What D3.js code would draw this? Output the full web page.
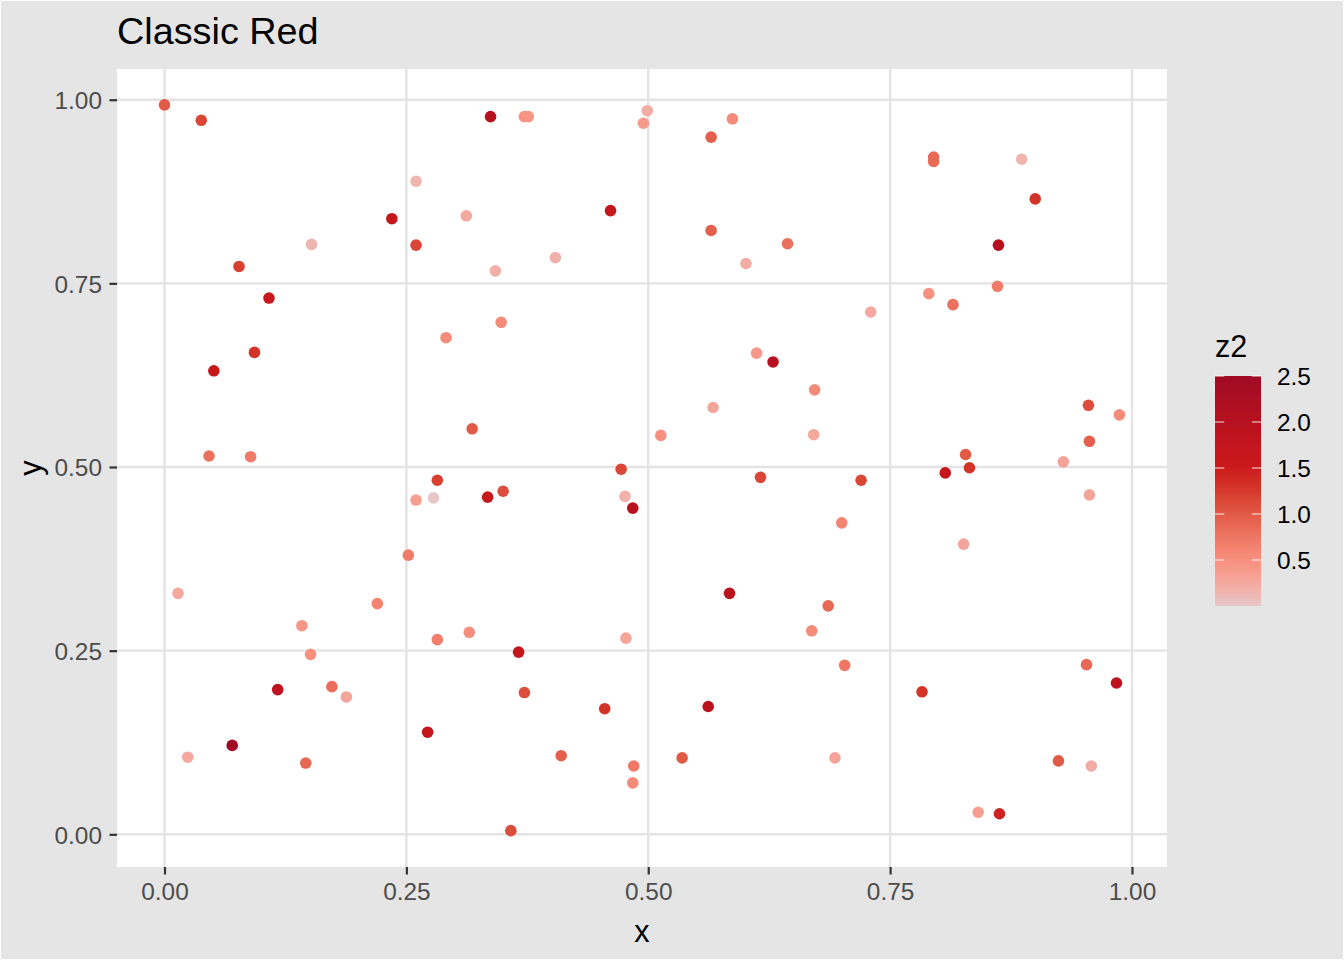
<!DOCTYPE html>
<html><head><meta charset="utf-8">
<script src="https://cdn.jsdelivr.net/npm/d3@7"></script>
<style>html,body{margin:0;padding:0;background:#E5E5E5;} svg{display:block;}</style>
</head><body><div id="chart"></div>
<script>
const xs = [0.000,0.038,0.260,0.235,0.152,0.260,0.077,0.108,0.291,0.093,0.051,0.046,0.089,0.312,0.318,0.337,0.372,0.376,0.499,0.495,0.587,0.565,0.461,0.565,0.644,0.601,0.404,0.342,0.348,0.612,0.629,0.672,0.567,0.513,0.671,0.472,0.795,0.795,0.886,0.900,0.862,0.861,0.790,0.815,0.730,0.955,0.987,0.956,0.828,0.929,0.282,0.260,0.278,0.252,0.014,0.220,0.142,0.282,0.315,0.151,0.117,0.173,0.188,0.272,0.070,0.024,0.146,0.616,0.334,0.350,0.476,0.484,0.584,0.669,0.477,0.366,0.372,0.455,0.562,0.410,0.535,0.485,0.484,0.358,0.807,0.832,0.720,0.956,0.700,0.826,0.686,0.703,0.953,0.984,0.783,0.693,0.924,0.958,0.841,0.863];
const ys = [0.993,0.972,0.889,0.838,0.803,0.802,0.773,0.730,0.676,0.656,0.631,0.515,0.514,0.842,0.552,0.977,0.977,0.977,0.985,0.968,0.974,0.949,0.849,0.822,0.804,0.777,0.785,0.767,0.697,0.655,0.643,0.605,0.581,0.543,0.544,0.497,0.922,0.916,0.919,0.865,0.802,0.746,0.736,0.721,0.711,0.584,0.571,0.535,0.517,0.507,0.482,0.455,0.458,0.380,0.328,0.314,0.284,0.265,0.275,0.245,0.197,0.201,0.187,0.139,0.121,0.105,0.097,0.486,0.459,0.467,0.460,0.444,0.328,0.277,0.267,0.248,0.193,0.171,0.174,0.107,0.104,0.093,0.070,0.005,0.492,0.499,0.482,0.462,0.424,0.395,0.311,0.230,0.231,0.206,0.194,0.104,0.100,0.093,0.030,0.028];
const z2 = [1.0,1.15,0.15,1.7,0.15,1.15,1.2,1.6,0.55,1.3,1.6,0.8,0.7,0.25,1.0,2.0,0.45,0.45,0.22,0.4,0.55,0.95,1.7,0.95,0.8,0.22,0.18,0.2,0.55,0.42,2.0,0.55,0.28,0.5,0.25,1.15,0.85,0.85,0.15,1.3,2.05,0.7,0.48,0.8,0.25,1.1,0.55,0.95,1.0,0.3,1.2,0.35,0.01,0.7,0.25,0.62,0.45,0.68,0.52,0.5,1.85,0.82,0.28,1.7,2.5,0.25,0.88,1.15,1.6,1.1,0.18,1.95,1.95,0.55,0.28,1.7,1.1,1.3,1.95,0.95,1.0,0.72,0.55,1.1,1.65,1.3,1.15,0.28,0.62,0.28,0.88,0.75,0.88,1.85,1.3,0.3,1.0,0.22,0.35,1.45];

const xTicks = [0, 0.25, 0.5, 0.75, 1];
const xTickLabels = ["0.00", "0.25", "0.50", "0.75", "1.00"];
const yTicks = [0, 0.25, 0.5, 0.75, 1];
const yTickLabels = ["0.00", "0.25", "0.50", "0.75", "1.00"];
const legendBreaks = [0.5, 1.0, 1.5, 2.0, 2.5];
const legendLabels = ["0.5", "1.0", "1.5", "2.0", "2.5"];
const zLimits = [0, 2.5];
const colorStops = [0, 0.25, 0.5, 0.75, 1.0, 1.25, 1.5, 1.75, 2.0, 2.25, 2.5];
const colorValues = ["#E6C8C8", "#F4A89E", "#F7907F", "#EE7663", "#E15A46", "#D6382B", "#CB1A1C", "#C2151D", "#B7111F", "#AC0E22", "#A00A25"];

const W = 1344, H = 960;
const FONT = "'Liberation Sans', Arial, Helvetica, sans-serif";
const panel = {left: 117, top: 69, right: 1167, bottom: 867};

const svg = d3.select("#chart").append("svg").attr("width", W).attr("height", H)
  .style("font-family", FONT);

svg.append("rect").attr("x", 0.5).attr("y", 0.5).attr("width", W - 1).attr("height", H - 1)
  .attr("fill", "#E5E5E5").attr("stroke", "#FFFFFF").attr("stroke-width", 1);

const x = d3.scaleLinear().domain([-0.0491, 1.0362]).range([panel.left, panel.right]);
const y = d3.scaleLinear().domain([-0.0445, 1.0418]).range([panel.bottom, panel.top]);
const color = d3.scaleLinear().domain(colorStops).range(colorValues).interpolate(d3.interpolateLab).clamp(true);

// panel
svg.append("rect").attr("x", panel.left).attr("y", panel.top)
  .attr("width", panel.right - panel.left).attr("height", panel.bottom - panel.top)
  .attr("fill", "#FFFFFF");

const grid = svg.append("g");
grid.selectAll("line.v").data(xTicks).join("line")
  .attr("x1", d => x(d)).attr("x2", d => x(d))
  .attr("y1", panel.top).attr("y2", panel.bottom)
  .attr("stroke", "#E3E3E3").attr("stroke-width", 2.4);
grid.selectAll("line.h").data(yTicks).join("line")
  .attr("y1", d => y(d)).attr("y2", d => y(d))
  .attr("x1", panel.left).attr("x2", panel.right)
  .attr("stroke", "#E3E3E3").attr("stroke-width", 2.4);

// points
const pts = xs.map((v, i) => ({x: v, y: ys[i], z: z2[i]}));
svg.append("g").selectAll("circle").data(pts).join("circle")
  .attr("cx", d => x(d.x)).attr("cy", d => y(d.y)).attr("r", 5.8)
  .attr("fill", d => color(d.z));

// axes
const xAxis = d3.axisBottom(x).tickValues(xTicks).tickFormat((d, i) => xTickLabels[i])
  .tickSize(7.5).tickPadding(8);
const gx = svg.append("g").attr("transform", `translate(0,${panel.bottom})`).call(xAxis);
gx.select(".domain").remove();
gx.selectAll(".tick line").attr("stroke", "#333333").attr("stroke-width", 2.2);
gx.selectAll(".tick text").attr("fill", "#4D4D4D").style("font-size", "24.4px")
  .style("font-family", FONT).attr("dy", "0.71em").attr("y", 15.5);

const yAxis = d3.axisLeft(y).tickValues(yTicks).tickFormat((d, i) => yTickLabels[i])
  .tickSize(7.5).tickPadding(8);
const gy = svg.append("g").attr("transform", `translate(${panel.left},0)`).call(yAxis);
gy.select(".domain").remove();
gy.selectAll(".tick line").attr("stroke", "#333333").attr("stroke-width", 2.2);
gy.selectAll(".tick text").attr("fill", "#4D4D4D").style("font-size", "24.4px")
  .style("font-family", FONT).attr("dy", "0.36em").attr("x", -15);

// titles
svg.append("text").attr("x", 117).attr("y", 44).text("Classic Red")
  .style("font-size", "37.8px").attr("fill", "#000");
svg.append("text").attr("x", (panel.left + panel.right) / 2).attr("y", 942)
  .attr("text-anchor", "middle").text("x").style("font-size", "30.6px").attr("fill", "#000");
svg.append("text").attr("transform", `translate(41,${(panel.top + panel.bottom) / 2}) rotate(-90)`)
  .attr("text-anchor", "middle").text("y").style("font-size", "30.6px").attr("fill", "#000");

// legend
const leg = {x: 1215, w: 46, top: 376, bottom: 606};
const ly = d3.scaleLinear().domain(zLimits).range([leg.bottom, leg.top]);
const defs = svg.append("defs");
const grad = defs.append("linearGradient").attr("id", "zgrad")
  .attr("x1", 0).attr("y1", 1).attr("x2", 0).attr("y2", 0);
d3.range(0, 1.0001, 0.02).forEach(t => {
  const v = zLimits[0] + t * (zLimits[1] - zLimits[0]);
  grad.append("stop").attr("offset", t).attr("stop-color", color(v));
});
svg.append("rect").attr("x", leg.x).attr("y", leg.top).attr("width", leg.w)
  .attr("height", leg.bottom - leg.top).attr("fill", "url(#zgrad)");
const lt = svg.append("g");
legendBreaks.forEach(b => {
  lt.append("line").attr("x1", leg.x).attr("x2", leg.x + leg.w / 5)
    .attr("y1", ly(b)).attr("y2", ly(b)).attr("stroke", "#FFFFFF").attr("stroke-opacity", 0.75).attr("stroke-width", 1.2);
  lt.append("line").attr("x1", leg.x + leg.w - leg.w / 5).attr("x2", leg.x + leg.w)
    .attr("y1", ly(b)).attr("y2", ly(b)).attr("stroke", "#FFFFFF").attr("stroke-opacity", 0.75).attr("stroke-width", 1.2);
});
svg.append("g").selectAll("text").data(legendBreaks).join("text")
  .attr("x", 1277).attr("y", d => ly(d)).attr("dy", "0.36em")
  .text((d, i) => legendLabels[i]).style("font-size", "24.4px").attr("fill", "#000");
svg.append("text").attr("x", 1215).attr("y", 357).text("z2")
  .style("font-size", "30.6px").attr("fill", "#000");
</script>
</body></html>
